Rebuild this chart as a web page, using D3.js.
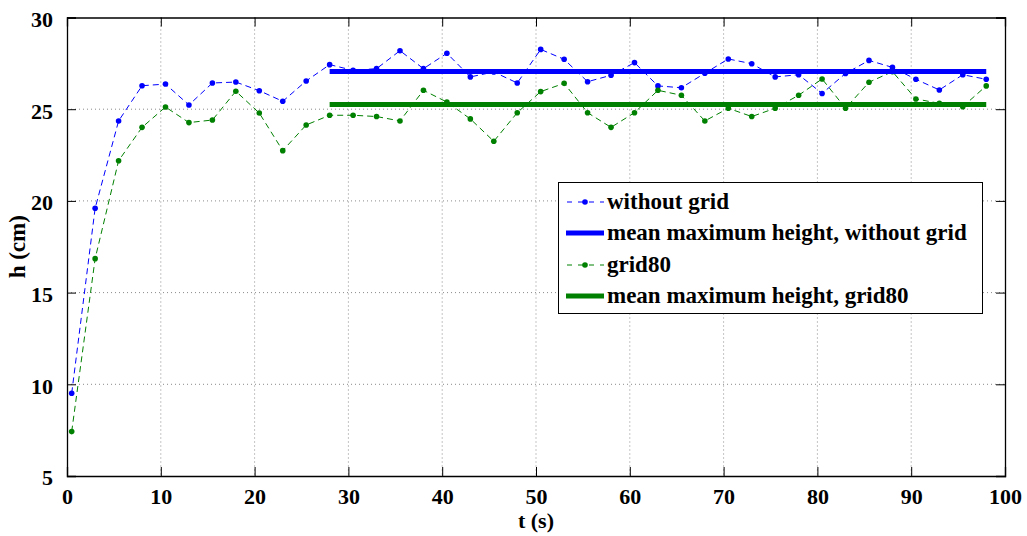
<!DOCTYPE html>
<html>
<head>
<meta charset="utf-8">
<script src="https://cdn.jsdelivr.net/npm/d3@7/dist/d3.min.js"></script>
<style>
  html, body { margin: 0; padding: 0; background: #fff; }
  svg text { font-family: "Liberation Serif", "Tinos", "Times New Roman", "DejaVu Serif", serif !important; font-weight: bold; fill: #000; }
</style>
</head>
<body>
<svg id="chart" width="1027" height="536"></svg>
<script>
// ---- data ----
const times = [0.5, 3, 5.5, 8, 10.5, 13, 15.5, 18, 20.5, 23, 25.5, 28, 30.5, 33, 35.5, 38, 40.5, 43, 45.5, 48,
               50.5, 53, 55.5, 58, 60.5, 63, 65.5, 68, 70.5, 73, 75.5, 78, 80.5, 83, 85.5, 88, 90.5, 93, 95.5, 98];
const withoutGrid = [9.51, 19.6, 24.36, 26.28, 26.37, 25.23, 26.43, 26.48, 26.01, 25.43, 26.54, 27.43, 27.12, 27.21, 28.19, 27.21, 28.05, 26.76, 27.03, 26.43,
                     28.26, 27.72, 26.5, 26.85, 27.54, 26.27, 26.17, 26.96, 27.74, 27.48, 26.76, 26.88, 25.86, 26.95, 27.66, 27.28, 26.63, 26.05, 26.88, 26.63];
const grid80 = [7.42, 16.85, 22.19, 24.01, 25.12, 24.27, 24.41, 25.98, 24.79, 22.74, 24.14, 24.67, 24.67, 24.6, 24.36, 26.03, 25.39, 24.47, 23.25, 24.81,
                25.96, 26.41, 24.81, 24.01, 24.81, 26.03, 25.76, 24.36, 25.05, 24.6, 25.05, 25.76, 26.65, 25.05, 26.47, 27.05, 25.56, 25.32, 25.14, 26.27];
const meanWithoutGrid = 27.05;
const meanGrid80 = 25.25;
const meanRange = [28, 98];
const xTicks = [0, 10, 20, 30, 40, 50, 60, 70, 80, 90, 100];
const yTicks = [5, 10, 15, 20, 25, 30];
const seriesNames = ["without grid", "mean maximum height, without grid", "grid80", "mean maximum height, grid80"];
const xLabel = "t (s)";
const yLabel = "h (cm)";

// ---- layout ----
const FONT = "'Liberation Serif', Tinos, 'Times New Roman', 'DejaVu Serif', serif";
const svg = d3.select("#chart");
const L = 67, R = 1005, T = 17.5, B = 476;
const x = d3.scaleLinear().domain([0, 100]).range([L, R]);
const y = d3.scaleLinear().domain([5, 30]).range([B, T]);
const blue = "#0000ff", green = "#008000";

// grid
const grid = svg.append("g");
grid.selectAll("line.gx").data(xTicks.slice(1, -1)).join("line")
  .attr("x1", d => x(d)).attr("x2", d => x(d)).attr("y1", T).attr("y2", B)
  .attr("stroke", "#8a8a8a").attr("stroke-width", 1).attr("stroke-dasharray", "1,3");
grid.selectAll("line.gy").data(yTicks.slice(1, -1)).join("line")
  .attr("x1", L).attr("x2", R).attr("y1", d => y(d)).attr("y2", d => y(d))
  .attr("stroke", "#8a8a8a").attr("stroke-width", 1).attr("stroke-dasharray", "1,3");

// axes (ticks inward)
const tickLen = 9;
const axB = svg.append("g").attr("transform", `translate(0,${B})`)
  .call(d3.axisBottom(x).tickValues(xTicks).tickSize(-tickLen).tickPadding(tickLen + 3));
const axT = svg.append("g").attr("transform", `translate(0,${T})`)
  .call(d3.axisTop(x).tickValues(xTicks).tickSize(-tickLen).tickFormat(""));
const axL = svg.append("g").attr("transform", `translate(${L},0)`)
  .call(d3.axisLeft(y).tickValues(yTicks).tickSize(-tickLen).tickPadding(tickLen + 5));
const axR = svg.append("g").attr("transform", `translate(${R},0)`)
  .call(d3.axisRight(y).tickValues(yTicks).tickSize(-tickLen).tickFormat(""));
[axB, axT, axL, axR].forEach(a => {
  a.attr("font-family", FONT);
  a.select(".domain").attr("stroke", "#000").attr("stroke-width", 1.3);
  a.selectAll(".tick line").attr("stroke", "#000").attr("stroke-width", 1);
  a.selectAll("text").attr("font-family", FONT).attr("font-weight", "bold").attr("font-size", 22).attr("fill", "#000");
});
axB.selectAll("text").attr("dy", "0.71em");
axL.selectAll("text").attr("dy", "0.4em");

// series
const pts = (vals) => times.map((t, i) => [t, vals[i]]);
const line = d3.line().x(d => x(d[0])).y(d => y(d[1]));

function drawSeries(vals, color) {
  const data = pts(vals);
  svg.append("path").datum(data).attr("d", line)
    .attr("fill", "none").attr("stroke", color).attr("stroke-width", 1).attr("stroke-dasharray", "6,4");
  svg.append("g").selectAll("circle").data(data).join("circle")
    .attr("cx", d => x(d[0])).attr("cy", d => y(d[1])).attr("r", 2.8).attr("fill", color);
}
drawSeries(withoutGrid, blue);
drawSeries(grid80, green);

function drawMean(v, color) {
  svg.append("line").attr("x1", x(meanRange[0])).attr("x2", x(meanRange[1]))
    .attr("y1", y(v)).attr("y2", y(v)).attr("stroke", color).attr("stroke-width", 5);
}
drawMean(meanWithoutGrid, blue);
drawMean(meanGrid80, green);

// axis labels
svg.append("text").attr("x", (L + R) / 2).attr("y", 528).attr("text-anchor", "middle")
  .attr("font-family", FONT).attr("font-size", 22).text(xLabel);
svg.append("text").attr("transform", `translate(25,${(T + B) / 2}) rotate(-90)`).attr("text-anchor", "middle")
  .attr("font-family", FONT).attr("font-size", 23).text(yLabel);

// legend
const lg = svg.append("g");
lg.append("rect").attr("x", 558.5).attr("y", 182.5).attr("width", 424).attr("height", 131)
  .attr("fill", "#fff").attr("stroke", "#000").attr("stroke-width", 1);
const legendY = [202, 233, 265, 296];
const legendStyle = [
  {color: blue, dashed: true}, {color: blue, dashed: false},
  {color: green, dashed: true}, {color: green, dashed: false}
];
seriesNames.forEach((name, i) => {
  const cy = legendY[i], st = legendStyle[i];
  if (st.dashed) {
    lg.append("line").attr("x1", 566).attr("x2", 604).attr("y1", cy).attr("y2", cy)
      .attr("stroke", st.color).attr("stroke-width", 1).attr("stroke-dasharray", "5,6").attr("stroke-dashoffset", -1);
    lg.append("circle").attr("cx", 585).attr("cy", cy).attr("r", 2.8).attr("fill", st.color);
  } else {
    lg.append("line").attr("x1", 566).attr("x2", 604).attr("y1", cy).attr("y2", cy)
      .attr("stroke", st.color).attr("stroke-width", 5);
  }
  lg.append("text").attr("x", 607).attr("y", cy).attr("dy", "0.32em")
    .attr("font-family", FONT).attr("font-size", 23).text(name);
});
</script>
</body>
</html>
